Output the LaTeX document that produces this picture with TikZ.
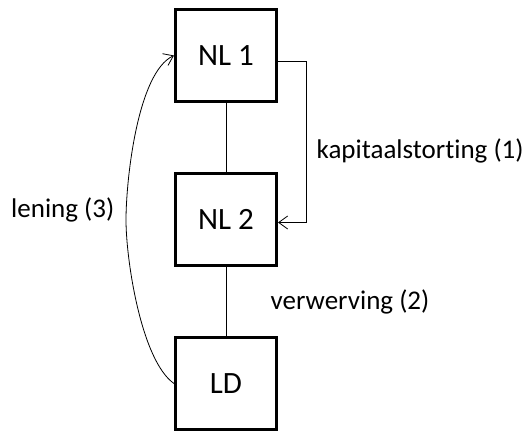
\documentclass[tikz,border=0pt]{standalone}
\usepackage{fontspec}
\setmainfont{Carlito}[Ligatures=NoCommon]
\usetikzlibrary{arrows.meta,positioning}

\begin{document}
\begin{tikzpicture}[x=1pt,y=-1pt,->,>={Straight Barb[length=9pt,width=13pt]},
                    line width=0.8pt,node distance=69pt,
                    entity/.style={draw,line width=3pt,minimum width=101pt,
                      minimum height=92pt,font=\fontsize{31}{31}\selectfont},
                    every node/.append style={font=\fontsize{27}{27}\selectfont}]
  \useasboundingbox (0,0) rectangle (527,431);

  \node[entity] (NL1) at (226,55.5) {NL 1};
  \node[entity] (NL2) [below=of NL1] {NL 2};
  \node[entity] (LD)  [below=of NL2] {LD};
  \coordinate (bend) at (126,220);

  \path (NL1) edge[-]  (NL2)
        (NL2) edge[-]  node[right=41pt] {verwerving (2)} (LD);
  \draw ([yshift=-5.5pt]NL1.east) -- ++(28,0)
        |- node[right=7pt,pos=0.28] {kapitaalstorting (1)} ([yshift=-3pt]NL2.east);
  \draw (LD.west) to[out=145,in=270,looseness=0.6] (bend)
        to[out=90,in=205,looseness=0.6] (NL1.west);
  \node (lening) [left=8pt of bend,yshift=10pt] {lening (3)};
\end{tikzpicture}
\end{document}
